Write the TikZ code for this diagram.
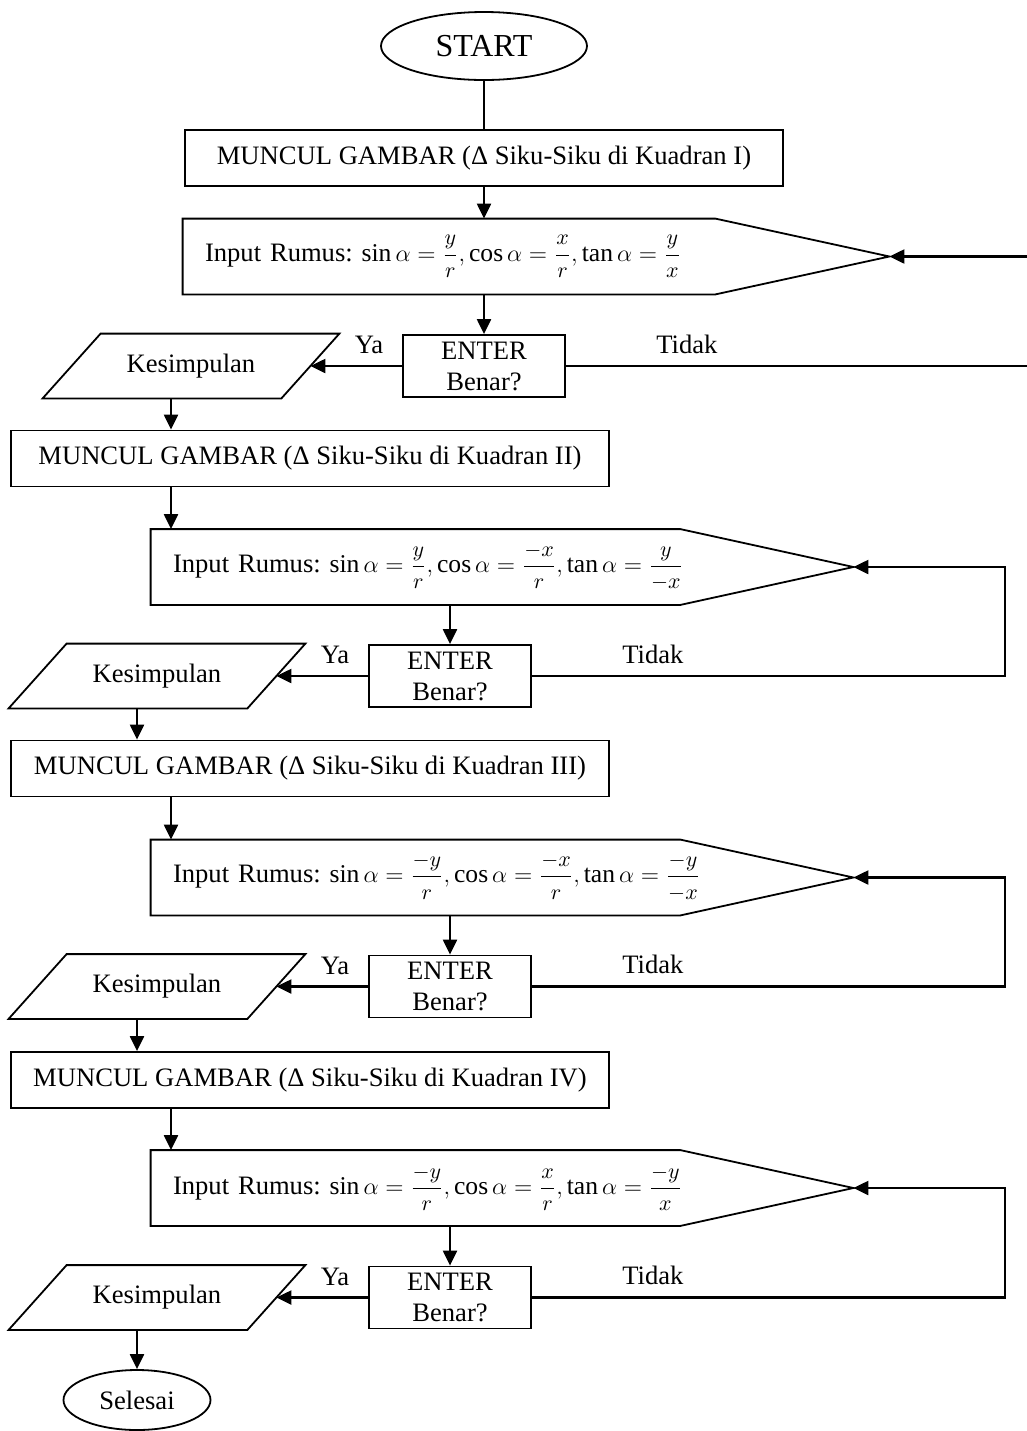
\documentclass[tikz,border=0pt]{standalone}
\usepackage{amsmath}
\usepackage{fontspec}
\setmainfont{Liberation Serif}
\DeclareMathSizes{13.3}{12.8}{11}{8.5}
\usetikzlibrary{arrows.meta,shapes.geometric,calc}
\newcommand\dispoutline[2]{\draw[shapeline] (#1.north west) -- ([xshift=-#2]#1.north east) -- (#1.east) -- ([xshift=-#2]#1.south east) -- (#1.south west) -- cycle;}
\newcommand\paraoutline[1]{\draw[shapeline] ([xshift=14.5pt]#1.north west) -- ([xshift=14.5pt]#1.north east) -- ([xshift=-14.5pt]#1.south east) -- ([xshift=-14.5pt]#1.south west) -- cycle;}
\newcommand\fr[2]{\genfrac{}{}{}{0}{\scriptstyle #1}{\scriptstyle #2}}
\begin{document}
\frenchspacing
\begin{tikzpicture}[x=0.5pt,y=-0.5pt,
  font=\fontsize{13.3}{15.5}\selectfont,
  shapeline/.style={line width=0.9pt},
  term/.style={ellipse, draw, line width=0.9pt, inner sep=0pt},
  procbox/.style={rectangle, draw, line width=0.9pt, minimum width=299pt, minimum height=28pt, inner sep=0pt},
  inbox/.style={rectangle, minimum height=37.5pt, inner xsep=11pt, inner ysep=0pt, text width=#1, align=left},
  decbox/.style={rectangle, draw, line width=0.9pt, minimum width=81pt, minimum height=31pt, inner sep=0pt, align=center},
  parabox/.style={rectangle, minimum width=119pt, minimum height=32pt, inner sep=0pt},
  conn/.style={line width=1.1pt},
  arr/.style={line width=1.1pt, -{Triangle[length=7.5pt,width=7pt]}},
  lbl/.style={inner sep=0pt}
]
\fill[white] (0,0) rectangle (1027,1431);
\useasboundingbox (0,0) rectangle (1027,1431);

% ---------- stage 1
\node[term, minimum width=103pt, minimum height=34pt, font=\fontsize{16}{19}\selectfont] (start) at (484,46) {START};
\node[procbox] (b1) at (484,158) {MUNCUL GAMBAR (Δ Siku-Siku di Kuadran I)};
\node[inbox=331pt] (in1) at (536,256.5) {Input Rumus: $\sin\alpha = \fr{y}{r}, \cos\alpha = \fr{x}{r}, \tan\alpha = \fr{y}{x}$};
\dispoutline{in1}{87pt}
\node[decbox] (d1) at (484,366) {ENTER\\Benar?};
\node[parabox] (k1) at (191,366) {Kesimpulan};
\paraoutline{k1}
\node[lbl] (ya1) at ([xshift=-16.5pt,yshift=10.5pt]d1.west) {Ya};
\node[lbl] (td1) at ([xshift=60.5pt,yshift=11pt]d1.east) {Tidak};
\coordinate (r1a) at (1027,256.5);
\coordinate (r1b) at (1027,366);

\draw[conn] (start.south) -- (start.south |- b1.north);
\draw[arr] (b1.south) -- (b1.south |- in1.north);
\draw[arr] (d1.north |- in1.south) -- (d1.north);
\draw[arr] (d1.west) -- (k1.east);
\draw[conn] (d1.east) -- (r1b);
\draw[arr] (r1a) -- (in1.east);

% ---------- stage 2
\node[procbox] (b2) at (310,458.5) {MUNCUL GAMBAR (Δ Siku-Siku di Kuadran II)};
\node[inbox=329pt] (in2) at (502,567) {Input Rumus: $\sin\alpha = \fr{y}{r}, \cos\alpha = \fr{-x}{r}, \tan\alpha = \fr{y}{-x}$};
\dispoutline{in2}{86.5pt}
\node[decbox] (d2) at (450,676) {ENTER\\Benar?};
\node[parabox] (k2) at (157,676) {Kesimpulan};
\paraoutline{k2}
\node[lbl] (ya2) at ([xshift=-16.5pt,yshift=10.5pt]d2.west) {Ya};
\node[lbl] (td2) at ([xshift=60.5pt,yshift=11pt]d2.east) {Tidak};
\coordinate (r2a) at (1005,567);

\draw[arr] ([xshift=-10pt]k1.south) -- ([xshift=-10pt]k1.south |- b2.north);
\draw[arr] ([xshift=-69.5pt]b2.south) -- ([xshift=-69.5pt]b2.south |- in2.north);
\draw[arr] (d2.north |- in2.south) -- (d2.north);
\draw[arr] (d2.west) -- (k2.east);
\draw[arr] (d2.east) -- (d2.east -| r2a) -- (r2a) -- (in2.east);

% ---------- stage 3
\node[procbox] (b3) at (310,768.5) {MUNCUL GAMBAR (Δ Siku-Siku di Kuadran III)};
\node[inbox=329pt] (in3) at (502,877.5) {Input Rumus: $\sin\alpha = \fr{-y}{r}, \cos\alpha = \fr{-x}{r}, \tan\alpha = \fr{-y}{-x}$};
\dispoutline{in3}{86.5pt}
\node[decbox] (d3) at (450,986.5) {ENTER\\Benar?};
\node[parabox] (k3) at (157,986.5) {Kesimpulan};
\paraoutline{k3}
\node[lbl] (ya3) at ([xshift=-16.5pt,yshift=10.5pt]d3.west) {Ya};
\node[lbl] (td3) at ([xshift=60.5pt,yshift=11pt]d3.east) {Tidak};
\coordinate (r3a) at (1005,877.5);

\draw[arr] ([xshift=-10pt]k2.south) -- ([xshift=-10pt]k2.south |- b3.north);
\draw[arr] ([xshift=-69.5pt]b3.south) -- ([xshift=-69.5pt]b3.south |- in3.north);
\draw[arr] (d3.north |- in3.south) -- (d3.north);
\draw[arr] (d3.west) -- (k3.east);
\draw[arr] (d3.east) -- (d3.east -| r3a) -- (r3a) -- (in3.east);

% ---------- stage 4
\node[procbox] (b4) at (310,1080) {MUNCUL GAMBAR (Δ Siku-Siku di Kuadran IV)};
\node[inbox=329pt] (in4) at (502,1188) {Input Rumus: $\sin\alpha = \fr{-y}{r}, \cos\alpha = \fr{x}{r}, \tan\alpha = \fr{-y}{x}$};
\dispoutline{in4}{86.5pt}
\node[decbox] (d4) at (450,1297.5) {ENTER\\Benar?};
\node[parabox] (k4) at (157,1297.5) {Kesimpulan};
\paraoutline{k4}
\node[lbl] (ya4) at ([xshift=-16.5pt,yshift=10.5pt]d4.west) {Ya};
\node[lbl] (td4) at ([xshift=60.5pt,yshift=11pt]d4.east) {Tidak};
\coordinate (r4a) at (1005,1188);
\node[term, minimum width=73.5pt, minimum height=30pt] (end) at (137,1400) {Selesai};

\draw[arr] ([xshift=-10pt]k3.south) -- ([xshift=-10pt]k3.south |- b4.north);
\draw[arr] ([xshift=-69.5pt]b4.south) -- ([xshift=-69.5pt]b4.south |- in4.north);
\draw[arr] (d4.north |- in4.south) -- (d4.north);
\draw[arr] (d4.west) -- (k4.east);
\draw[arr] (d4.east) -- (d4.east -| r4a) -- (r4a) -- (in4.east);
\draw[arr] ([xshift=-10pt]k4.south) -- (end.north);
\end{tikzpicture}
\end{document}
